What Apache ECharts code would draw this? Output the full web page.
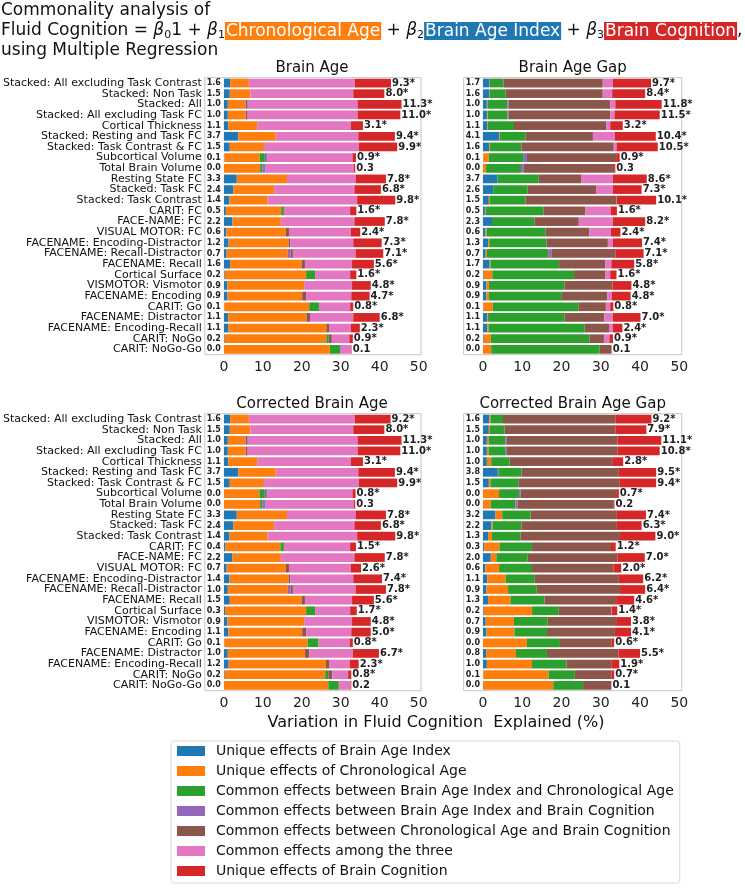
<!DOCTYPE html>
<html><head><meta charset="utf-8">
<script src="https://cdn.jsdelivr.net/npm/echarts@6/dist/echarts.min.js"></script>
<style>html,body{margin:0;padding:0;background:#fff}#c{width:745px;height:888px}</style>
</head><body><div id="c"></div>
<script>
const categories = ["Stacked: All excluding Task Contrast","Stacked: Non Task","Stacked: All","Stacked: All excluding Task FC","Cortical Thickness","Stacked: Resting and Task FC","Stacked: Task Contrast & FC","Subcortical Volume","Total Brain Volume","Resting State FC","Stacked: Task FC","Stacked: Task Contrast","CARIT: FC","FACE-NAME: FC","VISUAL MOTOR: FC","FACENAME: Encoding-Distractor","FACENAME: Recall-Distractor","FACENAME: Recall","Cortical Surface","VISMOTOR: Vismotor","FACENAME: Encoding","CARIT: Go","FACENAME: Distractor","FACENAME: Encoding-Recall","CARIT: NoGo","CARIT: NoGo-Go"];
const xTicks = [0,10,20,30,40,50];
const seriesNames = ["Unique effects of Brain Age Index","Unique effects of Chronological Age","Common effects between Brain Age Index and Chronological Age","Common effects between Brain Age Index and Brain Cognition","Common effects between Chronological Age and Brain Cognition","Common effects among the three","Unique effects of Brain Cognition"];
const panelTitles = ["Brain Age","Brain Age Gap","Corrected Brain Age","Corrected Brain Age Gap"];

// Brain Age
const BA_uBAI   = [1.6,1.5,1.0,1.0,1.1,3.7,1.5,0.1,0.0,3.3,2.4,1.4,0.5,2.2,0.6,1.2,0.7,1.6,0.2,0.9,0.9,0.1,1.1,1.1,0.2,0.0];
const BA_uCA    = [4.8,5.3,4.5,4.5,7.4,9.6,8.7,9.1,9.3,12.9,10.5,9.8,14.2,12.4,15.3,15.4,15.7,18.4,20.9,19.7,19.2,21.8,20.1,25.2,26.1,27.2];
const BA_cBAICA = [0,0,0,0,0,0,0,1.3,0.6,0,0,0,0.7,0,0,0,0,0,2.3,0,0,2.5,0,0,0.6,2.6];
const BA_cBAIBC = [0,0,0.1,0.1,0,0,0,0.6,0.8,0,0,0,0,0,0,0,0.7,0,0,0,0,0,0,0,0,0];
const BA_cCABC  = [0,0,0.5,0.5,0.1,0,0.1,0,0,0,0,0,0,0.1,0.8,0.4,0.6,0.8,0,0,1.0,0,0.9,0.7,0.8,0];
const BA_cAll   = [27.2,26.4,28.2,28.2,24.0,21.2,24.3,21.9,22.7,17.6,20.6,23.0,17.0,18.8,15.9,16.2,16.1,12.1,9.0,12.3,11.6,8.0,11.1,5.6,4.5,2.9];
const BA_uBC    = [9.3,8.0,11.3,11.0,3.1,9.4,9.9,0.9,0.3,7.8,6.8,9.8,1.6,7.8,2.4,7.3,7.1,5.6,1.6,4.8,4.7,0.8,6.8,2.3,0.9,0.1];
const BA_sig    = [1,1,1,1,1,1,1,1,0,1,1,1,1,1,1,1,1,1,1,1,1,1,1,1,1,0];

// Brain Age Gap
const BAG_uBAI   = [1.7,1.6,1.0,1.0,1.1,4.1,1.6,0.1,0.0,3.7,2.6,1.5,0.5,2.3,0.6,1.3,0.7,1.7,0.2,0.9,0.9,0.1,1.1,1.1,0.2,0.0];
const BAG_uCA    = [0.1,0.1,0.2,0.2,0.1,0.2,0.2,1.4,0.8,0,0,0.3,0.2,0,0.3,0.3,0.3,0.2,2.2,0.6,0.6,2.4,0.2,0.3,1.8,2.1];
const BAG_cBAICA = [3.4,4.1,5.0,5.0,6.7,6.5,8.0,8.9,8.9,10.5,8.8,9.0,14.7,10.8,15.0,14.6,15.6,17.5,20.8,19.3,18.6,21.8,19.5,24.5,25.1,27.6];
const BAG_cBAIBC = [0,0,0.3,0.3,0,0,0,0.8,0.7,0,0,0,0,0,0,0,0.8,0,0,0,0,0,0,0,0,0];
const BAG_cCABC  = [25.3,24.7,25.9,25.9,23.5,17.2,23.5,22.7,23.0,10.9,17.4,23.1,10.7,11.3,11.2,15.6,16.4,11.7,8.0,12.2,11.6,7.0,10.1,6.2,3.7,3.0];
const BAG_cAll   = [2.6,2.4,1.3,1.1,1.0,5.6,0.7,0,0,8.0,4.3,0.1,6.4,8.7,5.5,1.3,0,1.6,1.2,0,1.1,1.1,2.2,1.0,1.4,0];
const BAG_uBC    = [9.7,8.4,11.8,11.5,3.2,10.4,10.5,0.9,0.3,8.6,7.3,10.1,1.6,8.2,2.4,7.4,7.1,5.8,1.6,4.8,4.8,0.8,7.0,2.4,0.9,0.1];
const BAG_sig    = [1,1,1,1,1,1,1,1,0,1,1,1,1,1,1,1,1,1,1,1,1,1,1,1,1,0];

// Corrected Brain Age
const CBA_uBAI   = [1.6,1.5,1.0,1.0,1.1,3.7,1.5,0.0,0.0,3.3,2.4,1.4,0.4,2.2,0.7,1.4,1.0,1.5,0.3,0.9,1.1,0.1,1.0,1.2,0.2,0.0];
const CBA_uCA    = [4.8,5.3,4.5,4.5,7.4,9.6,8.7,9.1,9.3,12.9,10.5,9.8,14.1,12.4,15.2,15.2,15.4,18.5,20.8,19.7,19.0,21.4,19.8,25.0,25.8,26.8];
const CBA_cBAICA = [0,0,0,0,0,0,0,1.4,0.6,0,0,0,0.9,0,0,0,0,0,2.3,0,0,2.8,0,0,0.8,2.7];
const CBA_cBAIBC = [0,0,0.1,0.1,0,0,0,0.6,0.8,0,0,0,0,0,0,0,0.7,0,0,0,0,0,0,0,0,0];
const CBA_cCABC  = [0,0,0.5,0.5,0.1,0,0.1,0,0,0,0,0,0,0.1,0.8,0.4,0.6,0.8,0,0,1.0,0,1.1,0.8,1.0,0];
const CBA_cAll   = [27.2,26.4,28.2,28.2,24.0,21.2,24.3,21.9,22.7,17.6,20.6,23.0,17.0,18.8,15.9,16.2,16.1,12.1,9.0,12.3,11.6,8.0,11.2,5.3,4.1,3.0];
const CBA_uBC    = [9.2,8.0,11.3,11.0,3.1,9.4,9.9,0.8,0.3,7.8,6.8,9.8,1.5,7.8,2.6,7.4,7.8,5.6,1.7,4.8,5.0,0.8,6.7,2.3,0.8,0.2];
const CBA_sig    = [1,1,1,1,1,1,1,1,0,1,1,1,1,1,1,1,1,1,1,1,1,1,1,1,1,0];

// Corrected Brain Age Gap
const CBAG_uBAI   = [1.6,1.5,1.0,1.0,1.0,3.8,1.5,0.0,0.0,3.2,2.2,1.3,0.3,2.0,0.6,1.1,0.9,1.3,0.2,0.7,0.9,0.0,0.8,1.0,0.1,0.0];
const CBAG_uCA    = [0.3,0.3,0.4,0.4,1.1,0.1,0.4,4.1,2.0,1.7,0.3,1.0,3.9,1.4,3.5,4.7,5.5,5.7,12.3,7.2,7.1,11.2,7.6,11.5,16.6,17.9];
const CBAG_cBAICA = [3.2,3.7,4.4,4.4,4.7,5.9,7.1,5.1,6.3,7.2,7.3,7.3,8.3,8.0,8.4,7.4,7.3,8.7,6.8,8.6,8.3,8.4,7.9,8.8,6.7,7.6];
const CBAG_cBAIBC = [0,0,0.2,0.3,0,0,0,0.4,0.5,0,0,0,0,0,0,0,0,0,0,0,0,0,0,0,0,0];
const CBAG_cCABC  = [28.6,28.2,28.3,28.1,26.1,24.8,25.7,24.3,24.5,22.0,24.3,25.3,20.1,22.8,20.7,21.4,21.2,18.2,13.3,17.4,17.3,13.2,18.2,11.5,9.3,7.1];
const CBAG_cAll   = [0,0,0,0,0,0,0,0,0,0,0,0,0,0,0,0,0,0,0.2,0,0,0,0,0,0,0];
const CBAG_uBC    = [9.2,7.9,11.1,10.8,2.8,9.5,9.4,0.7,0.2,7.4,6.3,9.0,1.2,7.0,2.0,6.2,6.4,4.6,1.4,3.8,4.1,0.6,5.5,1.9,0.7,0.1];
const CBAG_sig    = [1,1,1,1,1,1,1,1,0,1,1,1,1,1,1,1,1,1,1,1,1,1,1,1,1,0];

const colors = ["#1f77b4","#ff7f0e","#2ca02c","#9467bd","#8c564b","#e377c2","#d62728"];
const FONT = "DejaVu Sans";
const panels = [
  [BA_uBAI,BA_uCA,BA_cBAICA,BA_cBAIBC,BA_cCABC,BA_cAll,BA_uBC,BA_sig],
  [BAG_uBAI,BAG_uCA,BAG_cBAICA,BAG_cBAIBC,BAG_cCABC,BAG_cAll,BAG_uBC,BAG_sig],
  [CBA_uBAI,CBA_uCA,CBA_cBAICA,CBA_cBAIBC,CBA_cCABC,CBA_cAll,CBA_uBC,CBA_sig],
  [CBAG_uBAI,CBAG_uCA,CBAG_cBAICA,CBAG_cBAIBC,CBAG_cCABC,CBAG_cAll,CBAG_uBC,CBAG_sig]
];

const GW = 218, GH = 277;
const gridPos = [[203,77.7],[463.7,77.7],[203,413.7],[463.7,413.7]];
const grids = gridPos.map(p => ({left:p[0], top:p[1], width:GW, height:GH, show:true, borderColor:'#c4c4c4', borderWidth:1, containLabel:false}));
const xAxes = gridPos.map((p,i) => ({
  type:'value', gridIndex:i, min:-4.9, max:50.6,
  axisLine:{show:false}, axisTick:{show:false}, splitLine:{show:false},
  axisLabel:{customValues:xTicks, fontSize:14, color:'#222', fontFamily:FONT, margin:6}
}));
const yAxes = gridPos.map((p,i) => ({
  type:'category', gridIndex:i, data:categories, inverse:true,
  axisLine:{show:false}, axisTick:{show:false},
  axisLabel:{show:(i%2===0), fontSize:11, color:'#111', fontFamily:FONT, margin:3, interval:0}
}));

const series = [];
panels.forEach((arrs, pi) => {
  const sig = arrs[7];
  for (let k = 0; k < 7; k++) {
    const s = {
      type:'bar', name:seriesNames[k], stack:'p'+pi, xAxisIndex:pi, yAxisIndex:pi,
      data:arrs[k], barCategoryGap:'18%', itemStyle:{color:colors[k]},
      animation:false, emphasis:{disabled:true}
    };
    if (k === 0) {
      s.label = {show:true, position:'left', distance:3, fontSize:8, fontWeight:'bold', color:'#222', fontFamily:FONT,
        formatter:p => p.value.toFixed(1)};
    }
    if (k === 6) {
      s.label = {show:true, position:'right', distance:1, fontSize:10, fontWeight:'bold', color:'#222', fontFamily:FONT,
        formatter:p => p.value.toFixed(1) + (sig[p.dataIndex] ? '*' : '')};
    }
    series.push(s);
  }
});

const panelTitleCenters = [[312,68],[572.7,68],[312,404],[572.7,404]];
const graphics = panelTitles.map((t,i) => ({
  type:'text', x:panelTitleCenters[i][0], y:panelTitleCenters[i][1],
  style:{text:t, align:'center', verticalAlign:'middle', fontSize:15, fontFamily:FONT, fill:'#111'}
}));
graphics.push({type:'text', x:436, y:723, style:{text:'Variation in Fluid Cognition  Explained (%)', align:'center', verticalAlign:'middle', fontSize:16, fontFamily:FONT, fill:'#111'}});

const TF = 17;
const option = {
  backgroundColor:'#fff',
  animation:false,
  title:{
    left:1, top:1, padding:0,
    text:'{n|Commonality analysis of}\n{n|Fluid Cognition = }{b|β}{s|0}{n|1 + }{b|β}{s|1}{o|Chronological Age}{n| + }{b|β}{s|2}{bl|Brain Age Index}{n| + }{b|β}{s|3}{r|Brain Cognition}{n|,}\n{n|using Multiple Regression}',
    textStyle:{
      fontFamily:FONT, fontSize:TF, fontWeight:'normal', color:'#111', lineHeight:20,
      rich:{
        n:{fontSize:TF, fontFamily:FONT, color:'#111', lineHeight:20},
        b:{fontSize:TF, fontFamily:FONT, fontStyle:'italic', color:'#111', lineHeight:20},
        s:{fontSize:11, fontFamily:FONT, color:'#111', lineHeight:12, verticalAlign:'bottom'},
        o:{fontSize:TF, fontFamily:FONT, color:'#fff', backgroundColor:'#ff7f0e', padding:[1,1,0,1], lineHeight:20},
        bl:{fontSize:TF, fontFamily:FONT, color:'#fff', backgroundColor:'#1f77b4', padding:[1,1,0,1], lineHeight:20},
        r:{fontSize:TF, fontFamily:FONT, color:'#fff', backgroundColor:'#d62728', padding:[1,1,0,1], lineHeight:20}
      }
    }
  },
  legend:{
    data:seriesNames, orient:'vertical', left:171, top:741,
    icon:'rect', itemWidth:28, itemHeight:10, itemGap:6,
    padding:[3,6,5,6], borderColor:'#d8d8d8', borderWidth:1, borderRadius:3,
    textStyle:{fontSize:14, lineHeight:14, fontFamily:FONT, color:'#111', padding:[0,0,0,6]},
    selectedMode:false
  },
  grid:grids, xAxis:xAxes, yAxis:yAxes, series:series, graphic:graphics
};
const chart = echarts.init(document.getElementById('c'));
chart.setOption(option);
</script></body></html>
